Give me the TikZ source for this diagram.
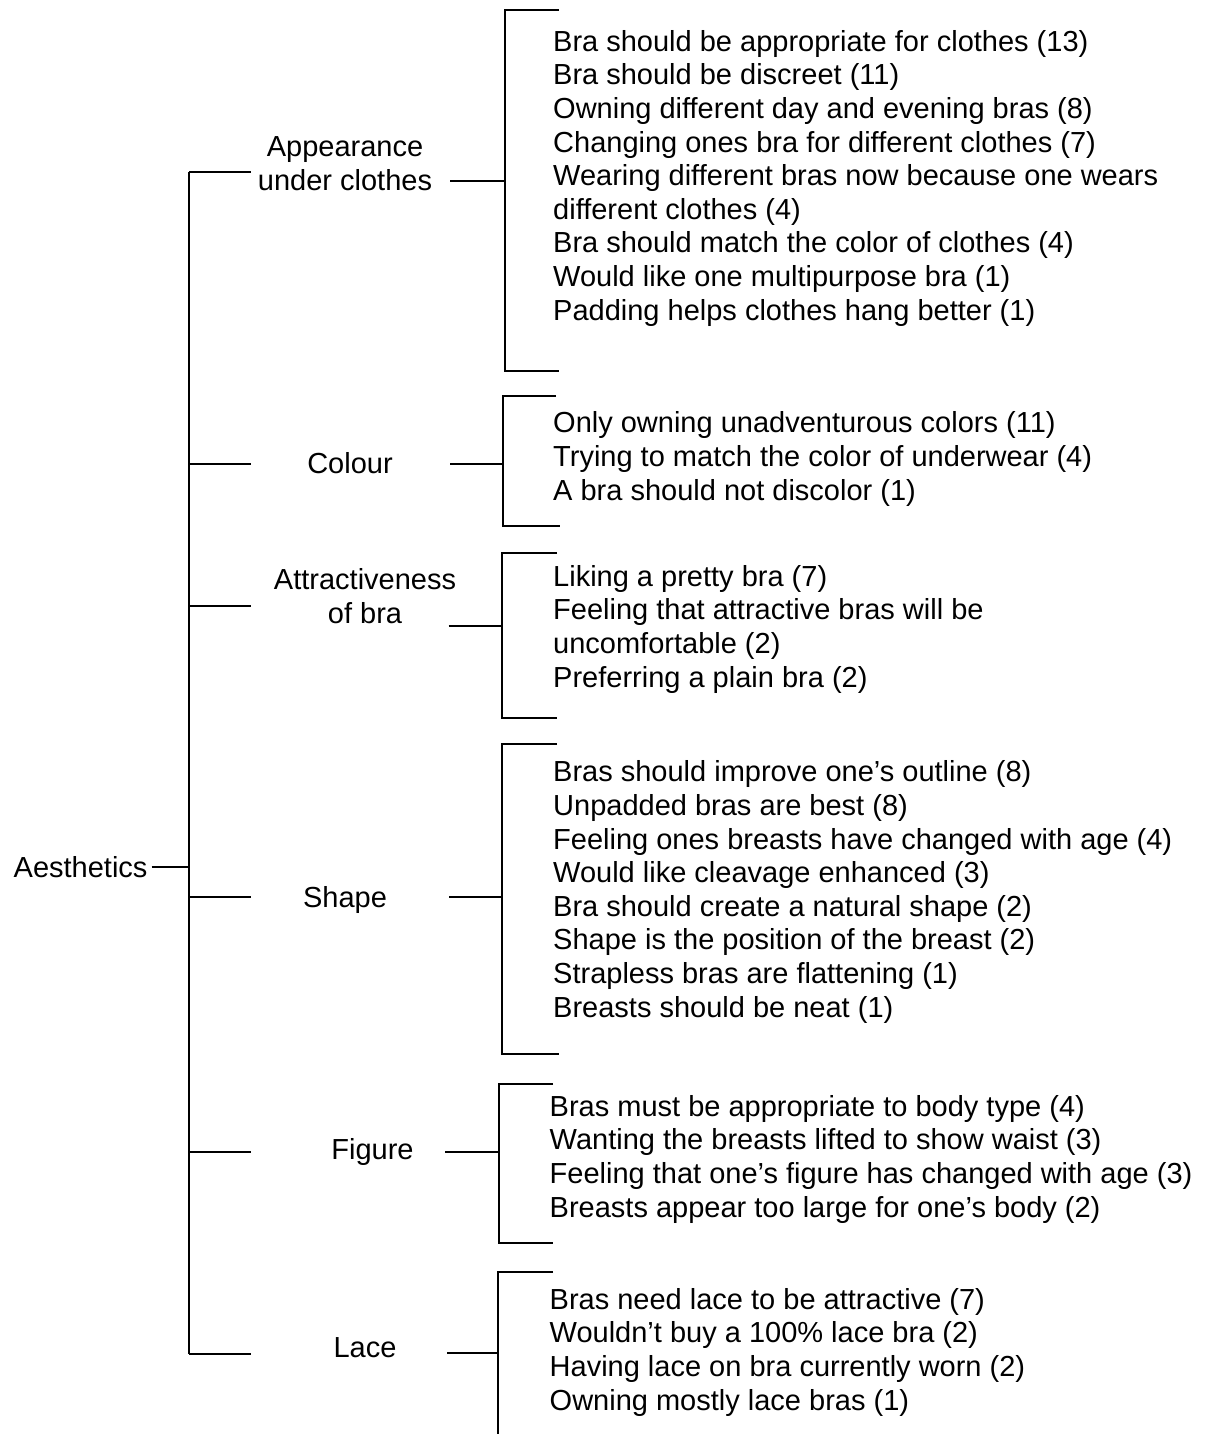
\documentclass[tikz,border=0pt]{standalone}
\usepackage{fontspec}
\setmainfont{Liberation Sans}
\usetikzlibrary{calc}

\tikzset{
  tree/.style={line width=2pt},
  cat/.style={align=center, anchor=base, inner sep=0pt},
  items/.style={align=left, anchor=base west, inner sep=0pt},
}

\begin{document}
\begin{tikzpicture}[x=1pt, y=-1pt, font=\fontsize{29}{33.6}\selectfont]
\useasboundingbox (0,0) rectangle (1218,1434);

% root and spine (multi-line nodes sit on their last baseline)
\node[anchor=base west, inner xsep=4pt, inner ysep=0pt] (aes) at (9.5,877) {Aesthetics};
\coordinate (top) at (189,172);
\coordinate (bot) at (189,1354);
\draw[tree] (aes.east) -- (aes.east -| top);
\draw[tree] (top) -- (bot);

% Appearance under clothes
\node[cat] (app) at (345,190) {Appearance\\under clothes};
\coordinate (app-w) at (251,172);
\coordinate (app-e) at (450,181);
\coordinate (app-br) at (504.5,181);
\draw[tree] (app-w -| top) -- (app-w);
\draw[tree] (app-e) -- (app-br);
\draw[tree] (559,10) -| (app-br) |- (558.5,371);
\node[items] (app-list) at (553,320) {Bra should be appropriate for clothes (13)\\
  Bra should be discreet (11)\\
  Owning different day and evening bras (8)\\
  Changing ones bra for different clothes (7)\\
  Wearing different bras now because one wears\\
  different clothes (4)\\
  Bra should match the color of clothes (4)\\
  Would like one multipurpose bra (1)\\
  Padding helps clothes hang better (1)};

% Colour
\node[cat] (col) at (350,473) {Colour};
\coordinate (col-w) at (251,464);
\coordinate (col-e) at (450,464);
\coordinate (col-br) at (502.5,464);
\draw[tree] (col-w -| top) -- (col-w);
\draw[tree] (col-e) -- (col-br);
\draw[tree] (556,396) -| (col-br) |- (559.5,526);
\node[items] (col-list) at (553,500) {Only owning unadventurous colors (11)\\
  Trying to match the color of underwear (4)\\
  A bra should not discolor (1)};

% Attractiveness of bra
\node[cat] (att) at (365,623) {Attractiveness\\of bra};
\coordinate (att-w) at (251,605.5);
\coordinate (att-e) at (448.5,625.5);
\coordinate (att-br) at (501.5,625.5);
\draw[tree] (att-w -| top) -- (att-w);
\draw[tree] (att-e) -- (att-br);
\draw[tree] (557,553) -| (att-br) |- (557,717.5);
\node[items] (att-list) at (553,687) {Liking a pretty bra (7)\\
  Feeling that attractive bras will be\\
  uncomfortable (2)\\
  Preferring a plain bra (2)};

% Shape
\node[cat] (shp) at (345,907) {Shape};
\coordinate (shp-w) at (251,897);
\coordinate (shp-e) at (449,897);
\coordinate (shp-br) at (501.5,897);
\draw[tree] (shp-w -| top) -- (shp-w);
\draw[tree] (shp-e) -- (shp-br);
\draw[tree] (557,744) -| (shp-br) |- (558.5,1054);
\node[items] (shp-list) at (553,1017) {Bras should improve one’s outline (8)\\
  Unpadded bras are best (8)\\
  Feeling ones breasts have changed with age (4)\\
  Would like cleavage enhanced (3)\\
  Bra should create a natural shape (2)\\
  Shape is the position of the breast (2)\\
  Strapless bras are flattening (1)\\
  Breasts should be neat (1)};

% Figure
\node[cat] (fig) at (372.5,1159) {Figure};
\coordinate (fig-w) at (251,1152);
\coordinate (fig-e) at (445,1152);
\coordinate (fig-br) at (498.5,1152);
\draw[tree] (fig-w -| top) -- (fig-w);
\draw[tree] (fig-e) -- (fig-br);
\draw[tree] (553,1084) -| (fig-br) |- (553,1243);
\node[items] (fig-list) at (549.5,1217) {Bras must be appropriate to body type (4)\\
  Wanting the breasts lifted to show waist (3)\\
  Feeling that one’s figure has changed with age (3)\\
  Breasts appear too large for one’s body (2)};

% Lace
\node[cat] (lac) at (365,1357) {Lace};
\coordinate (lac-w) at (251,1354);
\coordinate (lac-e) at (447,1353);
\coordinate (lac-br) at (497.5,1353);
\draw[tree] (lac-w -| top) -- (lac-w);
\draw[tree] (lac-e) -- (lac-br);
\draw[tree] (553,1272) -| (lac-br) -- (497.5,1434);
\node[items] (lac-list) at (549.5,1410) {Bras need lace to be attractive (7)\\
  Wouldn’t buy a 100\% lace bra (2)\\
  Having lace on bra currently worn (2)\\
  Owning mostly lace bras (1)};
\end{tikzpicture}
\end{document}
